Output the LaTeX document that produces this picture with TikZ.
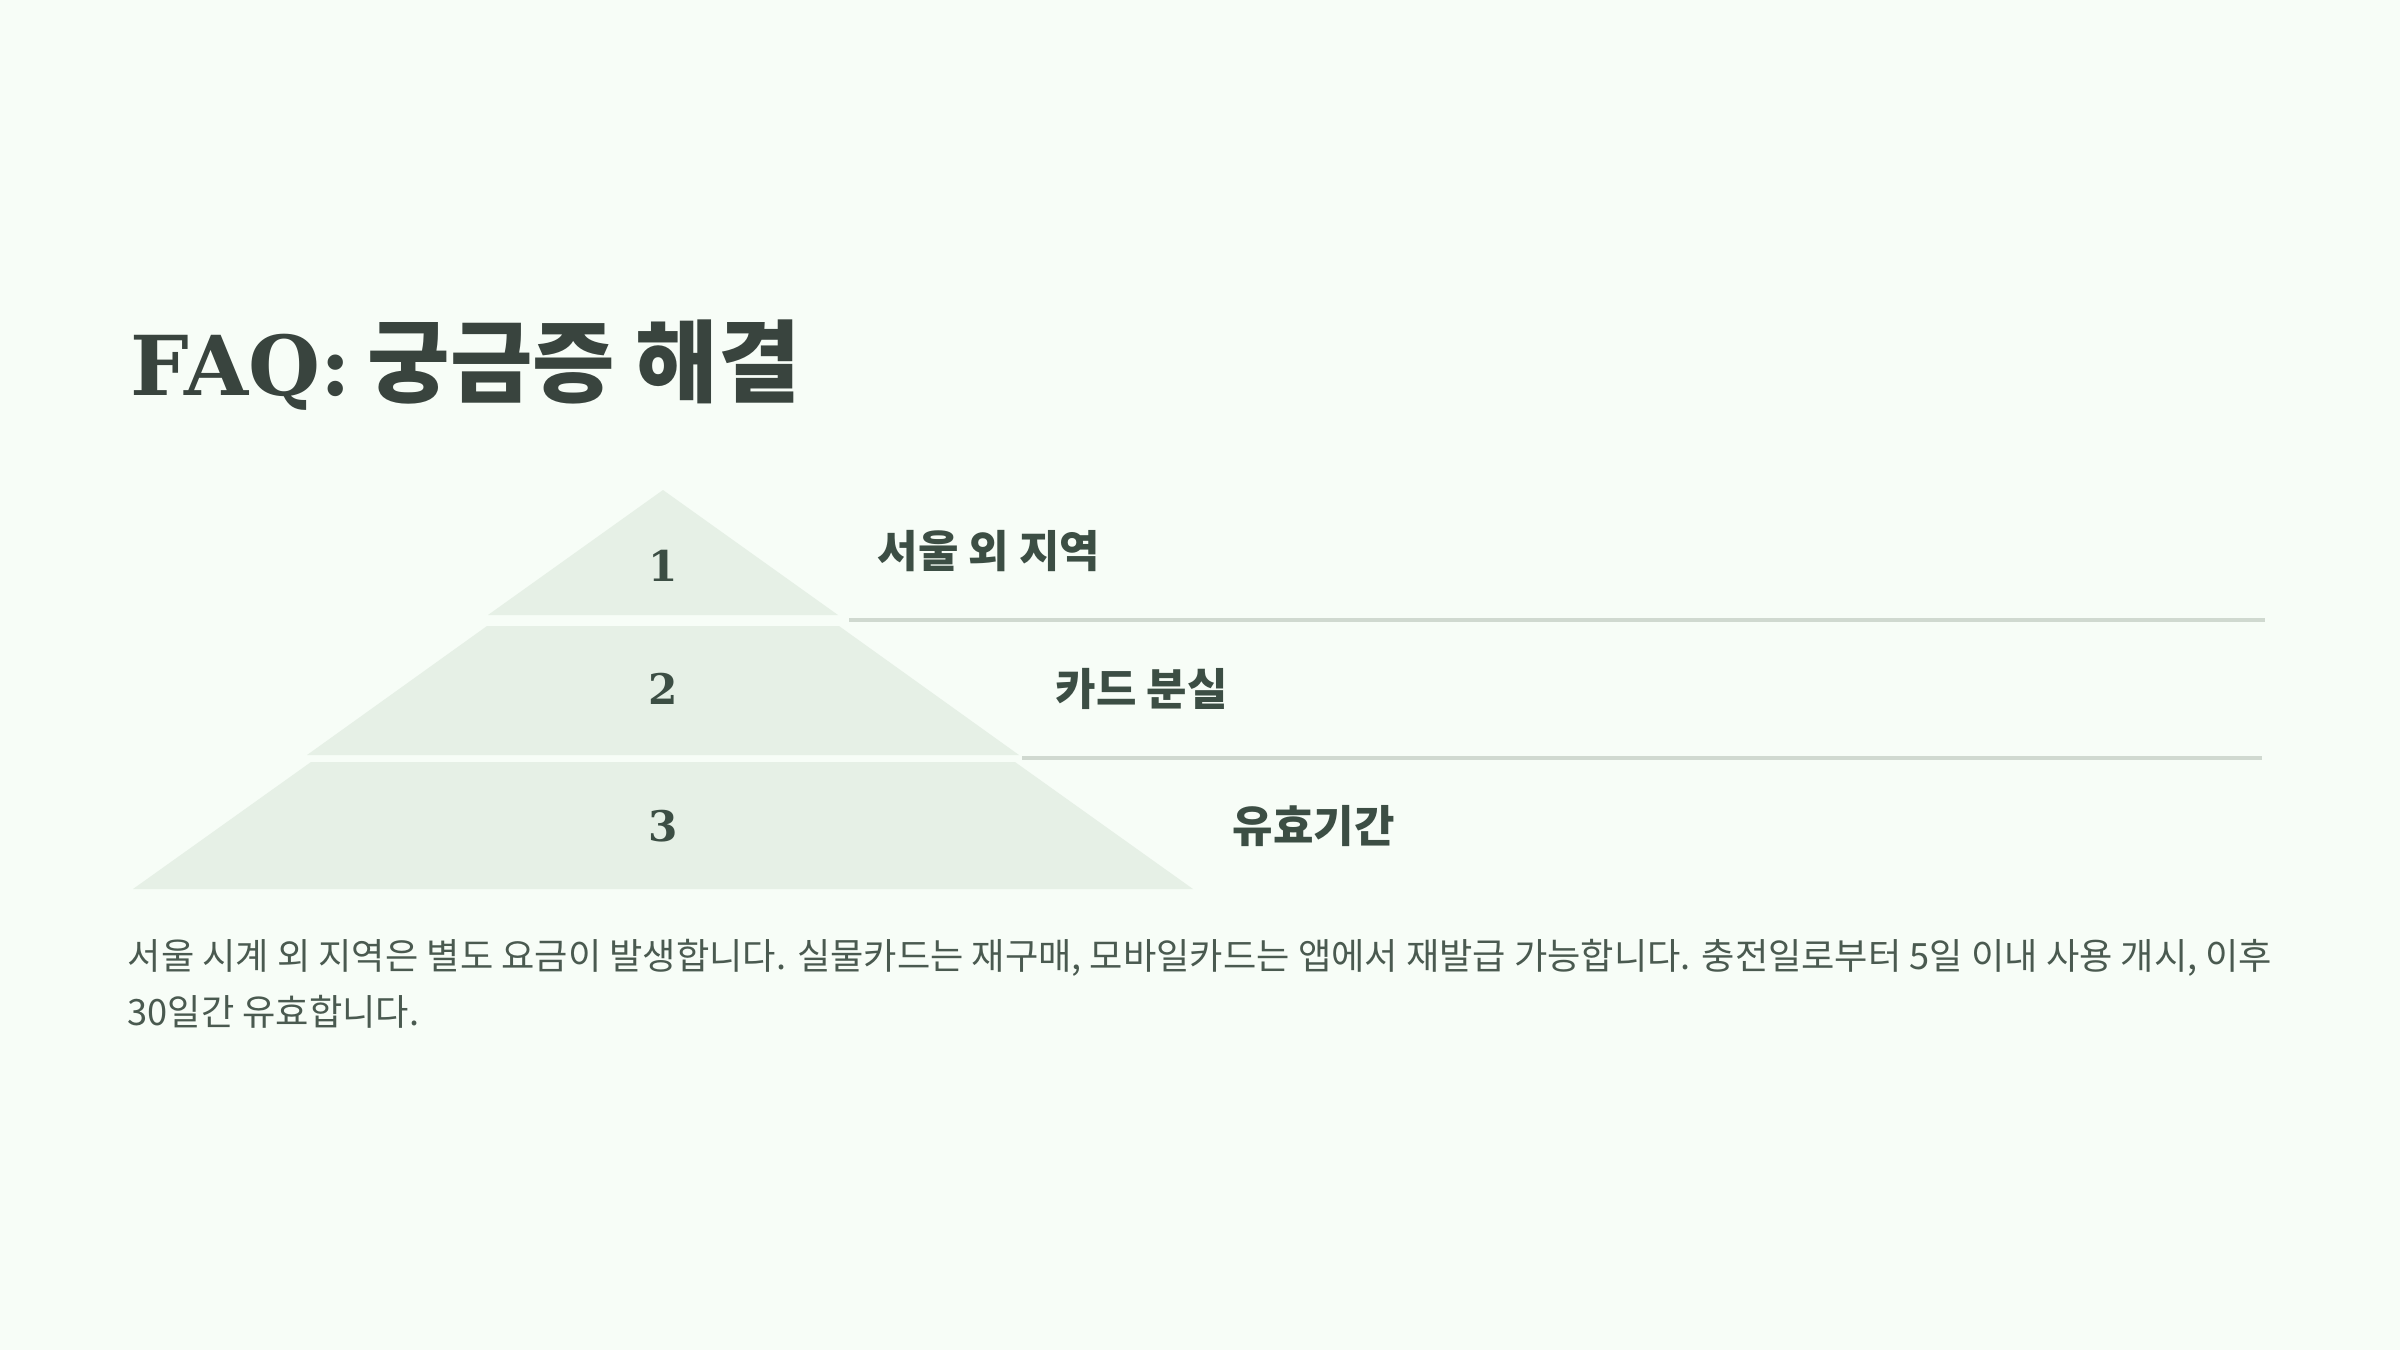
\documentclass[tikz,border=0pt]{standalone}
\usepackage{fontspec}
\setmainfont{DejaVu Serif}
\newfontfamily\krfont{Noto Sans CJK KR}
\usetikzlibrary{positioning}

\definecolor{bgmint}{HTML}{F7FDF7}
\definecolor{tierfill}{HTML}{E6F0E6}
\definecolor{inkdark}{HTML}{39443E}
\definecolor{inkgreen}{HTML}{3C4E44}
\definecolor{inkbody}{HTML}{4A5A50}
\definecolor{rulegray}{HTML}{D0D9D0}

\begin{document}
\begin{tikzpicture}[x=0.01cm,y=-0.01cm,
    tier/.style={fill=tierfill,draw=none},
    tiernum/.style={inner sep=0,text=inkgreen,font=\fontsize{12}{14}\selectfont\bfseries},
    tierlabel/.style={anchor=west,inner sep=0,text=inkgreen,font=\krfont\fontsize{12.5}{15}\selectfont\bfseries},
    tierrule/.style={draw=rulegray,line width=0.9pt}]
    \fill[bgmint] (0,0) rectangle (2400,1350);
    \useasboundingbox (0,0) rectangle (2400,1350);

    \node[anchor=base west,inner sep=0,text=inkdark] (title) at (130,395)
        {\fontsize{23.5}{28}\selectfont\bfseries FAQ:\hspace{0.2em}{\krfont\fontsize{25.5}{30}\selectfont 궁금증 해결}};

    % pyramid
    \fill[tier] (663,490) -- (838,615) -- (488,615) -- cycle;
    \fill[tier] (487,626) -- (839,626) -- (1019,755) -- (307,755) -- cycle;
    \fill[tier] (311,762) -- (1015,762) -- (1193,889) -- (133,889) -- cycle;

    \node[tiernum] (n1) at (663,566) {1};
    \node[tiernum] (n2) at (663,689) {2};
    \node[tiernum] (n3) at (663,826) {3};

    \node[tierlabel] (l1) at (877,551) {서울 외 지역};
    \node[tierlabel] (l2) at (1055,689) {카드 분실};
    \node[tierlabel] (l3) at (1232,826) {유효기간};

    \coordinate (r1a) at (849,620);
    \coordinate (r1b) at (2265,620);
    \coordinate (r2a) at (1022,758);
    \coordinate (r2b) at (2262,758);
    \draw[tierrule] (r1a) -- (r1b);
    \draw[tierrule] (r2a) -- (r2b);

    \node[anchor=base west,inner sep=0,align=left,text=inkbody,
        font=\krfont\fontsize{10.3}{15.65}\selectfont] (answer) at (127,1025)
        {서울 시계 외 지역은 별도 요금이 발생합니다. 실물카드는 재구매, 모바일카드는 앱에서 재발급 가능합니다. 충전일로부터 5일 이내 사용 개시, 이후\\30일간 유효합니다.};
\end{tikzpicture}
\end{document}
